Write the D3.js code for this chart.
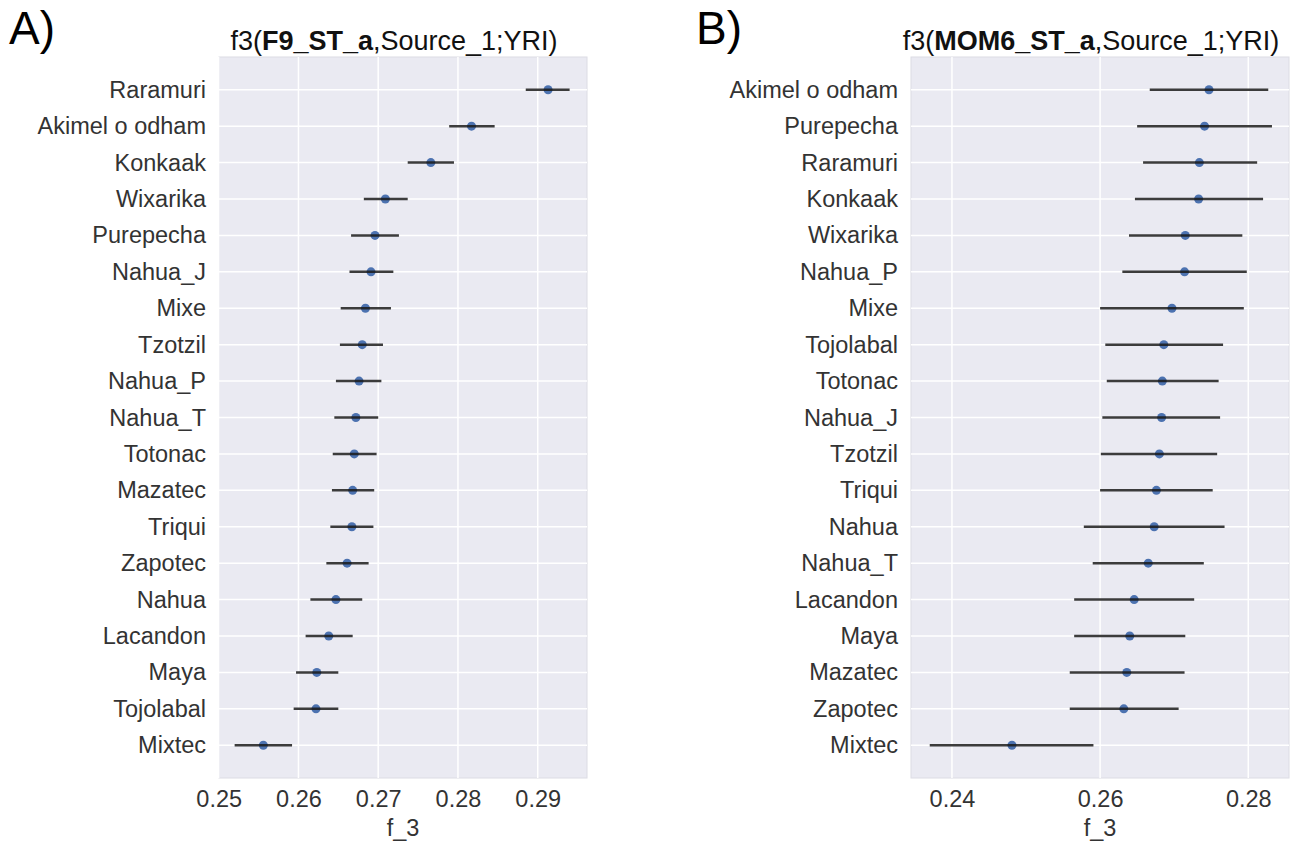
<!DOCTYPE html>
<html>
<head>
<meta charset="utf-8">
<script src="https://cdn.jsdelivr.net/npm/d3@7"></script>
<style>
  html, body { margin: 0; padding: 0; background: #fff; }
  svg { display: block; font-family: "Liberation Sans", Arial, sans-serif; }
</style>
</head>
<body>
<svg id="chart" width="1301" height="842"></svg>
<script>
// ---- Panel A data ----
const catsA = ["Raramuri","Akimel o odham","Konkaak","Wixarika","Purepecha","Nahua_J","Mixe","Tzotzil","Nahua_P","Nahua_T","Totonac","Mazatec","Triqui","Zapotec","Nahua","Lacandon","Maya","Tojolabal","Mixtec"];
const meanA = [0.2913,0.2817,0.2766,0.2709,0.2696,0.2691,0.2684,0.2680,0.2676,0.2672,0.2670,0.2668,0.2667,0.2661,0.2647,0.2638,0.2623,0.2622,0.2556];
const lowA  = [0.2885,0.2789,0.2737,0.2682,0.2666,0.2664,0.2653,0.2652,0.2647,0.2645,0.2643,0.2642,0.2640,0.2635,0.2615,0.2609,0.2597,0.2594,0.2520];
const highA = [0.2940,0.2846,0.2795,0.2737,0.2726,0.2719,0.2716,0.2706,0.2704,0.2700,0.2698,0.2695,0.2694,0.2688,0.2680,0.2668,0.2650,0.2650,0.2592];
const ticksA = [0.25,0.26,0.27,0.28,0.29];

// ---- Panel B data ----
const catsB = ["Akimel o odham","Purepecha","Raramuri","Konkaak","Wixarika","Nahua_P","Mixe","Tojolabal","Totonac","Nahua_J","Tzotzil","Triqui","Nahua","Nahua_T","Lacandon","Maya","Mazatec","Zapotec","Mixtec"];
const meanB = [0.2747,0.2741,0.2734,0.2733,0.2715,0.2714,0.2697,0.2686,0.2684,0.2683,0.2680,0.2676,0.2673,0.2665,0.2646,0.2640,0.2636,0.2632,0.2481];
const lowB  = [0.2667,0.2650,0.2658,0.2647,0.2639,0.2630,0.2600,0.2607,0.2609,0.2603,0.2601,0.2600,0.2578,0.2590,0.2565,0.2565,0.2559,0.2559,0.2370];
const highB = [0.2827,0.2832,0.2812,0.2820,0.2792,0.2798,0.2794,0.2766,0.2760,0.2762,0.2758,0.2752,0.2768,0.2740,0.2727,0.2715,0.2714,0.2706,0.2591];
const ticksB = [0.24,0.26,0.28];

const svg = d3.select("#chart");
const FONT = "Liberation Sans, Arial, sans-serif";

function panel(cfg) {
  const { cats, mean, low, high, ticks, xDomain, x0, x1, y0, y1, titleBold, letter, letterX } = cfg;
  const g = svg.append("g");
  const x = d3.scaleLinear().domain(xDomain).range([x0, x1]);
  const n = cats.length;
  const y = d3.scaleLinear().domain([-0.9, n - 0.1]).range([y0, y1]);

  g.append("rect").attr("x", x0).attr("y", y0).attr("width", x1 - x0).attr("height", y1 - y0)
    .attr("fill", "#EAEAF2").attr("stroke", "#dcdce4").attr("stroke-width", 1);

  g.selectAll(".vg").data(ticks).enter().append("line")
    .attr("x1", d => x(d)).attr("x2", d => x(d))
    .attr("y1", y0).attr("y2", y1)
    .attr("stroke", "#fff").attr("stroke-width", 1.5);
  g.selectAll(".hg").data(cats).enter().append("line")
    .attr("x1", x0).attr("x2", x1)
    .attr("y1", (d, i) => y(i)).attr("y2", (d, i) => y(i))
    .attr("stroke", "#fff").attr("stroke-width", 1.5);

  const xAxis = d3.axisBottom(x).tickValues(ticks).tickSize(0).tickPadding(12)
    .tickFormat(d3.format(".2f"));
  const ax = g.append("g").attr("transform", `translate(0,${y1})`).call(xAxis);
  ax.select(".domain").remove();
  ax.selectAll("text").attr("font-size", 23.5).attr("fill", "#333").attr("font-family", FONT);

  const yAxis = d3.axisLeft(y).tickValues(d3.range(n)).tickSize(0).tickPadding(13)
    .tickFormat(i => cats[i]);
  const ay = g.append("g").attr("transform", `translate(${x0},0)`).call(yAxis);
  ay.select(".domain").remove();
  ay.selectAll("text").attr("font-size", 23.5).attr("fill", "#333").attr("font-family", FONT);

  g.selectAll(".pt").data(mean).enter().append("circle")
    .attr("cx", d => x(d)).attr("cy", (d, i) => y(i)).attr("r", 4.5)
    .attr("fill", "#4C72B0");
  g.selectAll(".eb").data(cats).enter().append("line")
    .attr("x1", (d, i) => x(low[i])).attr("x2", (d, i) => x(high[i]))
    .attr("y1", (d, i) => y(i)).attr("y2", (d, i) => y(i))
    .attr("stroke", "#1a1a1a").attr("stroke-width", 2.5).attr("stroke-opacity", 0.85);

  const t = g.append("text").attr("x", (x0 + x1) / 2 - 9).attr("y", 50)
    .attr("text-anchor", "middle").attr("font-size", 27).attr("fill", "#111");
  t.append("tspan").text("f3(");
  t.append("tspan").attr("font-weight", "bold").text(titleBold);
  t.append("tspan").text(",Source_1;YRI)");

  g.append("text").attr("x", (x0 + x1) / 2).attr("y", 836)
    .attr("text-anchor", "middle").attr("font-size", 23.5).attr("fill", "#333").text("f_3");

  svg.append("text").attr("x", letterX).attr("y", 44).attr("font-size", 46)
    .attr("fill", "#000").text(letter);
}

panel({ cats: catsA, mean: meanA, low: lowA, high: highA, ticks: ticksA,
  xDomain: [0.25004, 0.29618], x0: 219, x1: 587, y0: 57, y1: 778,
  titleBold: "F9_ST_a", letter: "A)", letterX: 9 });

panel({ cats: catsB, mean: meanB, low: lowB, high: highB, ticks: ticksB,
  xDomain: [0.23447, 0.28550], x0: 911, x1: 1289, y0: 57, y1: 778,
  titleBold: "MOM6_ST_a", letter: "B)", letterX: 696 });
</script>
</body>
</html>
